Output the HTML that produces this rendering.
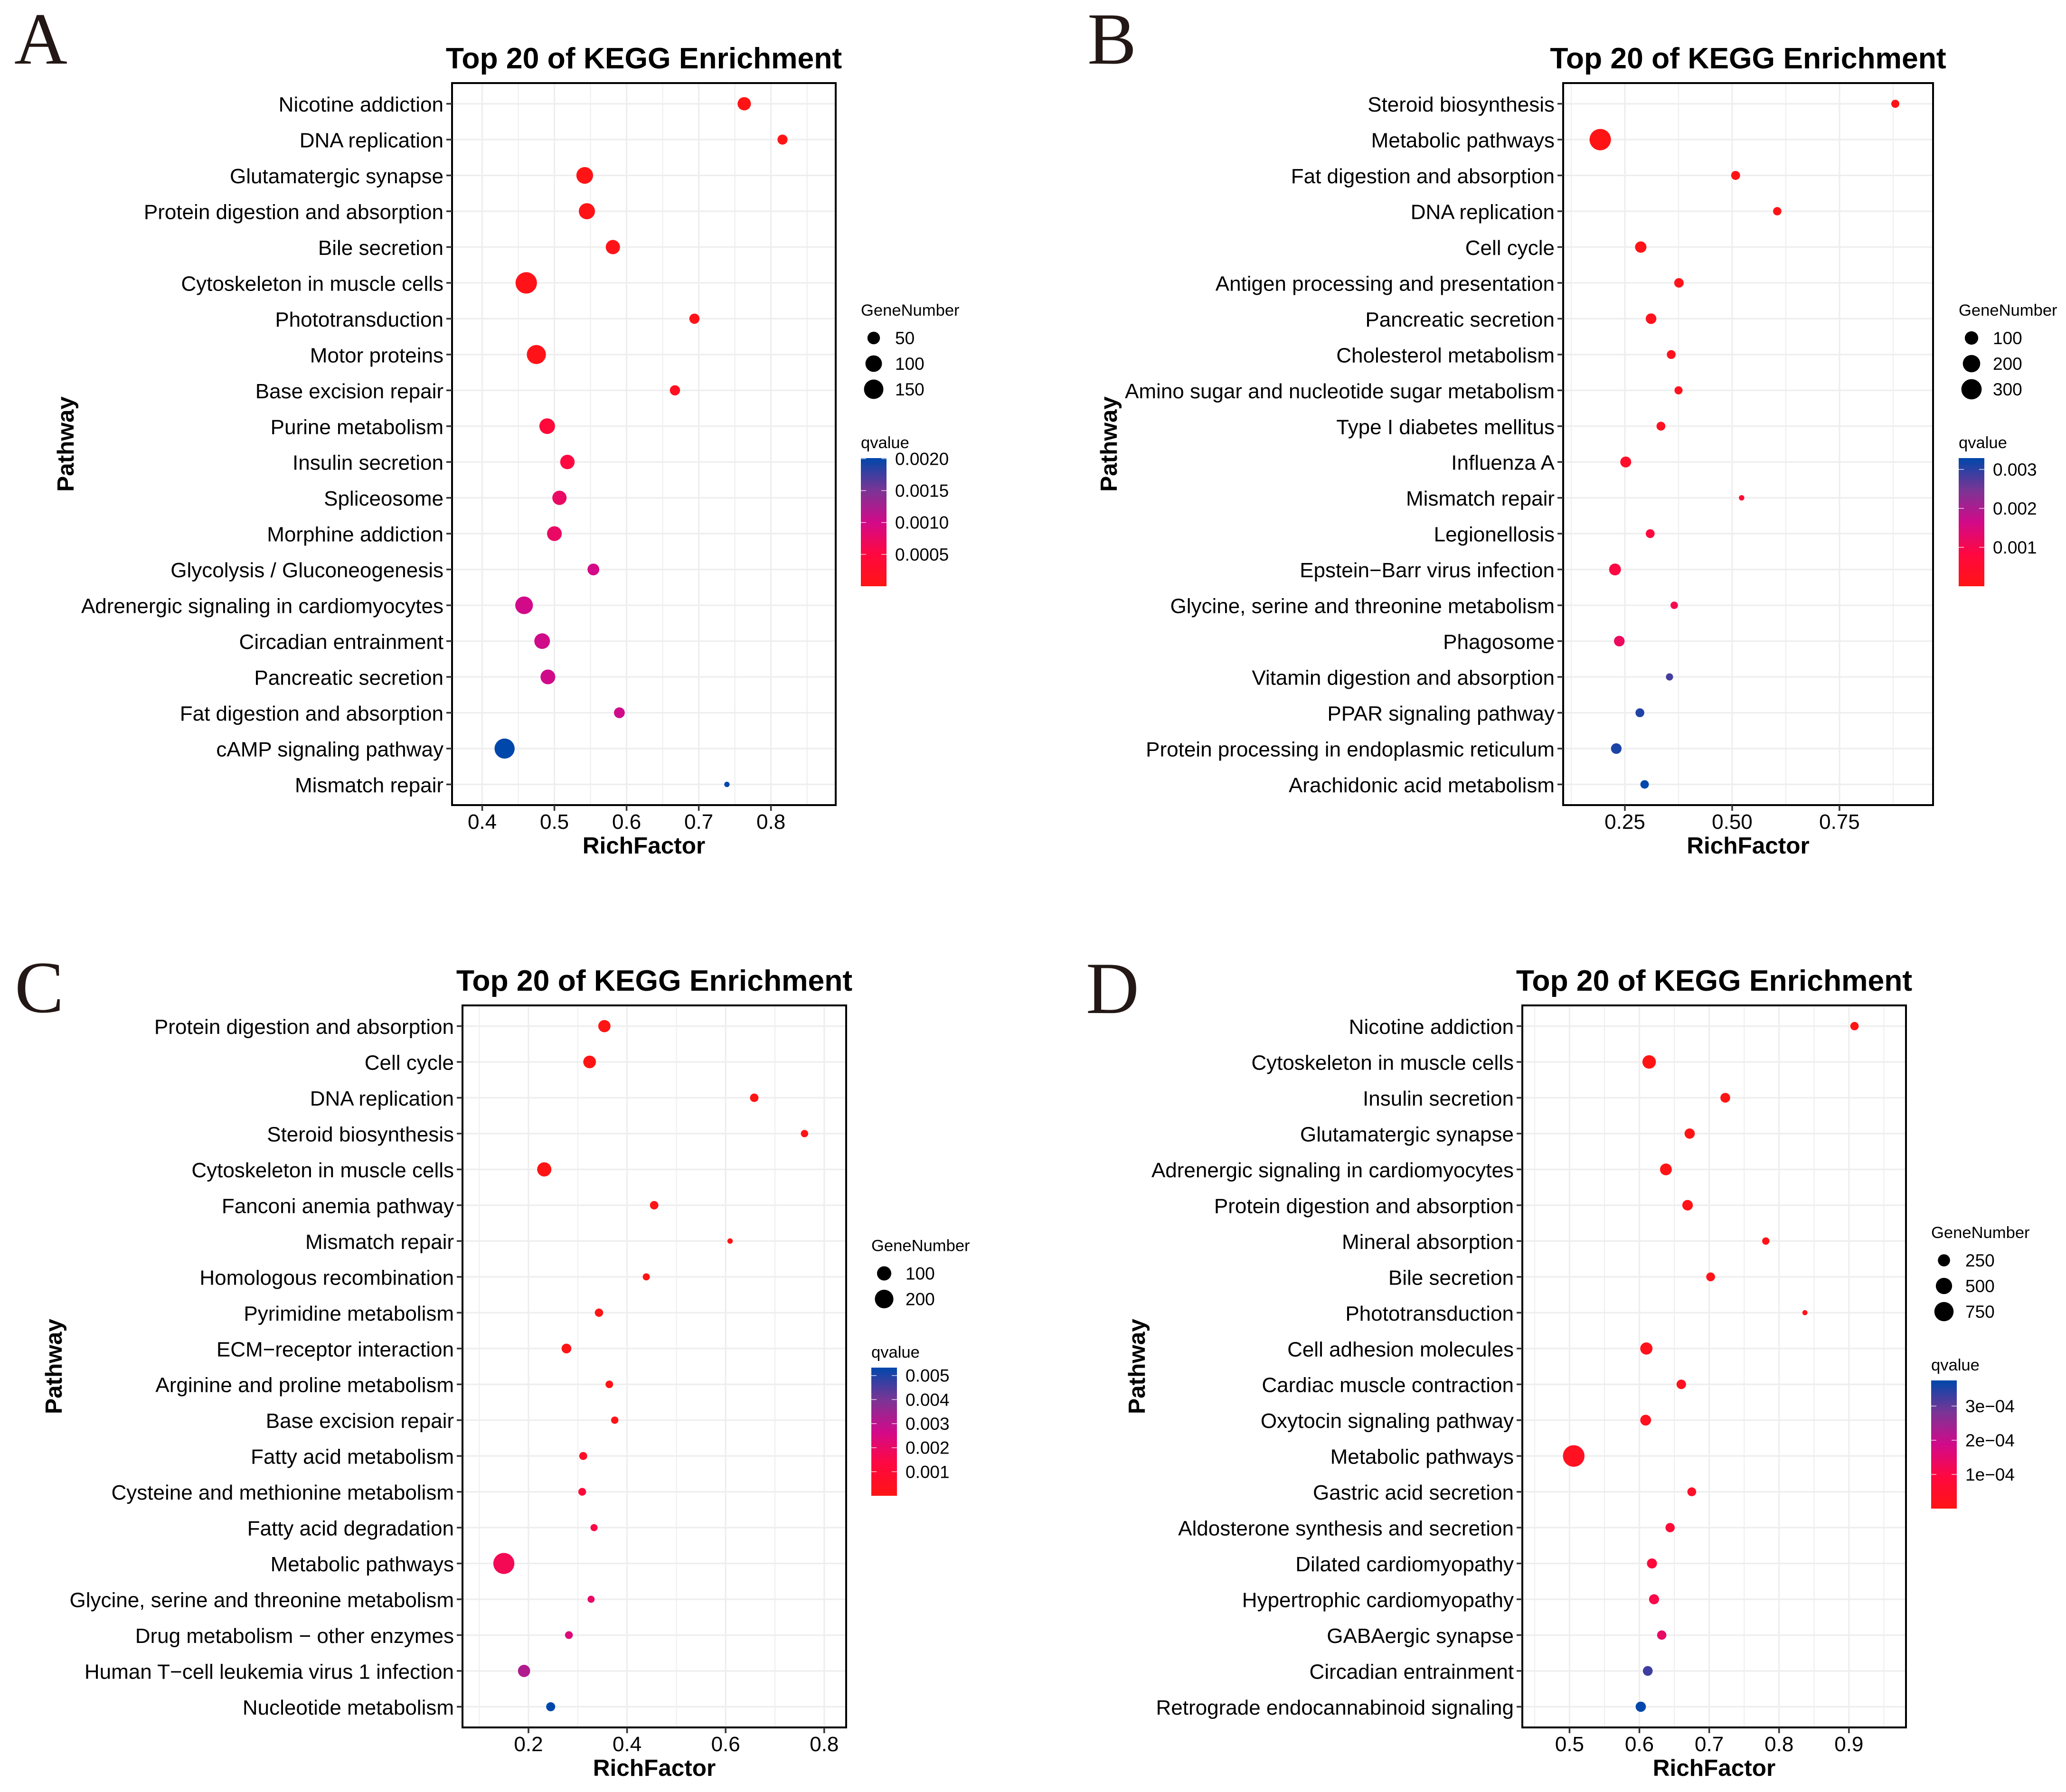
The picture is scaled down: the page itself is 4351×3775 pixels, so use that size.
<!DOCTYPE html>
<html lang="en">
<head>
<meta charset="utf-8">
<title>Top 20 of KEGG Enrichment</title>
<style>
html,body{margin:0;padding:0;background:#fff;}
svg{display:block;}
text{font-family:"Liberation Sans",Arial,sans-serif;fill:#000;}
</style>
</head>
<body>
<svg id="figure" xmlns="http://www.w3.org/2000/svg" width="4351" height="3775" viewBox="0 0 4351 3775">
<rect x="0" y="0" width="4351" height="3775" fill="#ffffff"/>
</svg>
<script>
/* ---------- Panel A data ---------- */
const panelAPathways = ["Nicotine addiction","DNA replication","Glutamatergic synapse","Protein digestion and absorption","Bile secretion","Cytoskeleton in muscle cells","Phototransduction","Motor proteins","Base excision repair","Purine metabolism","Insulin secretion","Spliceosome","Morphine addiction","Glycolysis / Gluconeogenesis","Adrenergic signaling in cardiomyocytes","Circadian entrainment","Pancreatic secretion","Fat digestion and absorption","cAMP signaling pathway","Mismatch repair"];
const panelARichFactor = [.763,.816,.542,.545,.581,.461,.694,.475,.667,.490,.518,.507,.500,.554,.458,.483,.491,.590,.431,.739];
const panelAGeneNumber = [58,30,103,94,69,190,31,144,31,87,71,69,75,43,118,87,75,35,164,15];
const panelAQvalue = [.00001,.00002,.00002,.00003,.00004,.00004,.00005,.00006,.00015,.00045,.0005,.00075,.00075,.00098,.001,.00102,.00102,.00102,.00201,.00201];
const panelAXTicks = [.4,.5,.6,.7,.8];
const panelAXTickLabels = ["0.4","0.5","0.6","0.7","0.8"];
const panelASizeBreaks = [50,100,150];
const panelAQBreaks = [.0005,.001,.0015,.002];
const panelAQBreakLabels = ["0.0005","0.0010","0.0015","0.0020"];

/* ---------- Panel B data ---------- */
const panelBPathways = ["Steroid biosynthesis","Metabolic pathways","Fat digestion and absorption","DNA replication","Cell cycle","Antigen processing and presentation","Pancreatic secretion","Cholesterol metabolism","Amino sugar and nucleotide sugar metabolism","Type I diabetes mellitus","Influenza A","Mismatch repair","Legionellosis","Epstein\u2212Barr virus infection","Glycine, serine and threonine metabolism","Phagosome","Vitamin digestion and absorption","PPAR signaling pathway","Protein processing in endoplasmic reticulum","Arachidonic acid metabolism"];
const panelBRichFactor = [.880,.1926,.508,.605,.287,.376,.311,.358,.375,.334,.252,.522,.309,.227,.365,.237,.354,.285,.230,.296];
const panelBGeneNumber = [29,340,36,31,65,41,54,35,29,35,58,20,35,72,25,54,24,35,54,32];
const panelBQvalue = [.00001,.00002,.00003,.00004,.00006,.0001,.00013,.00017,.0002,.00026,.00043,.00056,.00079,.00086,.00099,.00116,.00283,.00307,.0031,.00329];
const panelBXTicks = [.25,.5,.75];
const panelBXTickLabels = ["0.25","0.50","0.75"];
const panelBSizeBreaks = [100,200,300];
const panelBQBreaks = [.001,.002,.003];
const panelBQBreakLabels = ["0.001","0.002","0.003"];

/* ---------- Panel C data ---------- */
const panelCPathways = ["Protein digestion and absorption","Cell cycle","DNA replication","Steroid biosynthesis","Cytoskeleton in muscle cells","Fanconi anemia pathway","Mismatch repair","Homologous recombination","Pyrimidine metabolism","ECM\u2212receptor interaction","Arginine and proline metabolism","Base excision repair","Fatty acid metabolism","Cysteine and methionine metabolism","Fatty acid degradation","Metabolic pathways","Glycine, serine and threonine metabolism","Drug metabolism \u2212 other enzymes","Human T\u2212cell leukemia virus 1 infection","Nucleotide metabolism"];
const panelCRichFactor = [.354,.324,.658,.760,.232,.455,.609,.439,.343,.277,.364,.375,.311,.309,.333,.150,.327,.282,.191,.245];
const panelCGeneNumber = [66,73,27,21,99,27,17,20,26,37,22,21,24,23,20,276,20,23,66,31];
const panelCQvalue = [.00001,.00001,.00001,.00002,.00002,.00003,.00003,.00005,.00005,.00005,.00008,.00011,.00053,.00117,.00143,.0017,.002,.00233,.00318,.00533];
const panelCXTicks = [.2,.4,.6,.8];
const panelCXTickLabels = ["0.2","0.4","0.6","0.8"];
const panelCSizeBreaks = [100,200];
const panelCQBreaks = [.001,.002,.003,.004,.005];
const panelCQBreakLabels = ["0.001","0.002","0.003","0.004","0.005"];

/* ---------- Panel D data ---------- */
const panelDPathways = ["Nicotine addiction","Cytoskeleton in muscle cells","Insulin secretion","Glutamatergic synapse","Adrenergic signaling in cardiomyocytes","Protein digestion and absorption","Mineral absorption","Bile secretion","Phototransduction","Cell adhesion molecules","Cardiac muscle contraction","Oxytocin signaling pathway","Metabolic pathways","Gastric acid secretion","Aldosterone synthesis and secretion","Dilated cardiomyopathy","Hypertrophic cardiomyopathy","GABAergic synapse","Circadian entrainment","Retrograde endocannabinoid signaling"];
const panelDRichFactor = [.908,.614,.723,.672,.638,.669,.781,.702,.837,.610,.660,.609,.506,.675,.644,.618,.621,.632,.612,.602];
const panelDGeneNumber = [120,318,157,173,233,183,101,131,85,254,149,193,985,131,143,166,166,143,157,173];
const panelDQvalue = [.000001,.000001,.000002,.000002,.000004,.000004,.000008,.000008,.000011,.000019,.000023,.000023,.000027,.000042,.000072,.000084,.000106,.000141,.000327,.000375];
const panelDXTicks = [.5,.6,.7,.8,.9];
const panelDXTickLabels = ["0.5","0.6","0.7","0.8","0.9"];
const panelDSizeBreaks = [250,500,750];
const panelDQBreaks = [.0001,.0002,.0003];
const panelDQBreakLabels = ["1e\u221204","2e\u221204","3e\u221204"];

/* ---------- Colour ramp ---------- */
const rampOffsets = [0,.25,.5,.75,1];
const rampColors = ["#ff1414","#ff0840","#d20a8a","#7a3595","#0047ab"];

const NS = "http://www.w3.org/2000/svg";
const figure = document.getElementById("figure");

function el(parent, tag, attrs, txt){
  const n = document.createElementNS(NS, tag);
  for (const k in attrs) n.setAttribute(k, attrs[k]);
  if (txt !== undefined) n.textContent = txt;
  parent.appendChild(n);
  return n;
}
function hexToRgb(h){return [parseInt(h.slice(1,3),16),parseInt(h.slice(3,5),16),parseInt(h.slice(5,7),16)];}
function rampColor(t){
  t = Math.max(0, Math.min(1, t));
  for (let i = 1; i < rampOffsets.length; i++){
    if (t <= rampOffsets[i]){
      const f = (t - rampOffsets[i-1]) / (rampOffsets[i] - rampOffsets[i-1]);
      const a = hexToRgb(rampColors[i-1]), b = hexToRgb(rampColors[i]);
      return "rgb(" + a.map((v,j)=>Math.round(v + (b[j]-v)*f)).join(",") + ")";
    }
  }
  return rampColors[rampColors.length-1];
}

function drawPanel(cfg){
  const id = cfg.id;
  const g = el(figure, "g", {});
  
  

  const xScale = v => cfg.left + (v - cfg.xMin) / (cfg.xMax - cfg.xMin) * (cfg.right - cfg.left);
  const yInset = 43.6;
  const yStep = (cfg.bottom - cfg.top - 2 * yInset) / (cfg.pathways.length - 1);
  const yScale = i => cfg.top + yInset + i * yStep;
  const gMin = Math.min(...cfg.genes), gMax = Math.max(...cfg.genes);
  const rScale = n => cfg.rMin + (cfg.rMax - cfg.rMin) * Math.sqrt(Math.max(0, (n - gMin) / (gMax - gMin)));
  const qMax = Math.max(...cfg.qvalues);
  const colorScale = q => rampColor(q / qMax);
  const centerX = (cfg.left + cfg.right) / 2;
  const centerY = (cfg.top + cfg.bottom) / 2;

  /* panel letter */
  const letter = el(g, "text", {x: cfg.letterX, y: cfg.letterY, "font-size": 155, style: 'font-family:"Liberation Serif",serif;fill:#231815'}, id);
  
  

  /* title */
  const title = el(g, "text", {x: centerX, y: cfg.top - 31, "font-size": 62.4, "font-weight": "bold", "text-anchor": "middle"}, "Top 20 of KEGG Enrichment");
  
  

  /* gridlines */
  const grid = el(g, "g", {});
  
  
  const step = cfg.xTicks[1] - cfg.xTicks[0];
  const minors = [cfg.xTicks[0] - step / 2];
  cfg.xTicks.forEach(t => minors.push(t + step / 2));
  minors.filter(v => v > cfg.xMin && v < cfg.xMax).forEach(v => {
    const l = el(grid, "line", {x1: xScale(v), x2: xScale(v), y1: cfg.top, y2: cfg.bottom, stroke: "#eeeeee", "stroke-width": 2});
    
    
  });
  cfg.xTicks.forEach(v => {
    const l = el(grid, "line", {x1: xScale(v), x2: xScale(v), y1: cfg.top, y2: cfg.bottom, stroke: "#eeeeee", "stroke-width": 3.2});
    
    
  });
  cfg.pathways.forEach((p, i) => {
    const l = el(grid, "line", {x1: cfg.left, x2: cfg.right, y1: yScale(i), y2: yScale(i), stroke: "#eeeeee", "stroke-width": 3.2});
    
    
  });

  /* points */
  const pts = el(g, "g", {});
  
  
  cfg.pathways.forEach((p, i) => {
    const c = el(pts, "circle", {cx: xScale(cfg.rich[i]), cy: yScale(i), r: rScale(cfg.genes[i]), fill: colorScale(cfg.qvalues[i])});
    
    
  });

  /* panel border */
  const border = el(g, "rect", {x: cfg.left, y: cfg.top, width: cfg.right - cfg.left, height: cfg.bottom - cfg.top, fill: "none", stroke: "#000", "stroke-width": 4});
  
  

  /* y axis */
  const yAxis = el(g, "g", {});
  
  
  cfg.pathways.forEach((p, i) => {
    const t = el(yAxis, "line", {x1: cfg.left - 12, x2: cfg.left, y1: yScale(i), y2: yScale(i), stroke: "#333", "stroke-width": 3.5});
    
    
    const lab = el(yAxis, "text", {x: cfg.left - 18, y: yScale(i) + 16.5, "font-size": 44, "text-anchor": "end"}, p);
    
    
  });
  const yTitle = el(yAxis, "text", {x: 0, y: 0, "font-size": 49.5, "font-weight": "bold", "text-anchor": "middle", transform: "translate(" + cfg.yTitleX + "," + centerY + ") rotate(-90)"}, "Pathway");
  
  

  /* x axis */
  const xAxis = el(g, "g", {});
  
  
  cfg.xTicks.forEach((v, i) => {
    const t = el(xAxis, "line", {x1: xScale(v), x2: xScale(v), y1: cfg.bottom, y2: cfg.bottom + 12, stroke: "#333", "stroke-width": 3.5});
    
    
    const lab = el(xAxis, "text", {x: xScale(v), y: cfg.bottom + 50, "font-size": 44, "text-anchor": "middle"}, cfg.xTickLabels[i]);
    
    
  });
  const xTitle = el(xAxis, "text", {x: centerX, y: cfg.bottom + 102, "font-size": 49.5, "font-weight": "bold", "text-anchor": "middle"}, "RichFactor");
  
  

  /* size legend */
  const sizeLegend = el(g, "g", {});
  
  
  const sizeTitle = el(sizeLegend, "text", {x: cfg.legendX, y: cfg.sizeTitleY, "font-size": 34.6}, "GeneNumber");
  
  
  cfg.sizeBreaks.forEach((b, i) => {
    const y = cfg.sizeTitleY + 47 + i * 54;
    const c = el(sizeLegend, "circle", {cx: cfg.legendX + 27, cy: y, r: rScale(b), fill: "#000"});
    
    
    const t = el(sizeLegend, "text", {x: cfg.legendX + 72, y: y + 13, "font-size": 37}, String(b));
    
    
  });

  /* colour legend */
  const colorLegend = el(g, "g", {});
  
  
  const colorTitle = el(colorLegend, "text", {x: cfg.legendX, y: cfg.barTop - 21, "font-size": 34.6}, "qvalue");
  
  
  const barH = 270, barW = 54;
  const grad = el(colorLegend, "linearGradient", {id: "ramp" + id, x1: 0, y1: 1, x2: 0, y2: 0});
  rampOffsets.forEach((o, i) => el(grad, "stop", {offset: o, "stop-color": rampColors[i]}));
  const bar = el(colorLegend, "rect", {x: cfg.legendX, y: cfg.barTop, width: barW, height: barH, fill: "url(#ramp" + id + ")"});
  
  
  const qY = q => cfg.barTop + barH - q / qMax * barH;
  cfg.qBreaks.forEach((q, i) => {
    const y = qY(q);
    const t1 = el(colorLegend, "line", {x1: cfg.legendX, x2: cfg.legendX + 11, y1: y, y2: y, stroke: "#fff", "stroke-width": 1.4, "stroke-opacity": .85});
    
    
    const t2 = el(colorLegend, "line", {x1: cfg.legendX + barW - 11, x2: cfg.legendX + barW, y1: y, y2: y, stroke: "#fff", "stroke-width": 1.4, "stroke-opacity": .85});
    
    
    const lab = el(colorLegend, "text", {x: cfg.legendX + 72, y: y + 13, "font-size": 37}, cfg.qBreakLabels[i]);
    
    
  });
}

drawPanel({id:"A", left:952, right:1760, top:175, bottom:1696, xMin:.3582, xMax:.8897, rMin:5.7, rMax:22.5,
  letterX:30, letterY:134, yTitleX:155, legendX:1813, sizeTitleY:665, barTop:965,
  pathways:panelAPathways, rich:panelARichFactor, genes:panelAGeneNumber, qvalues:panelAQvalue,
  xTicks:panelAXTicks, xTickLabels:panelAXTickLabels, sizeBreaks:panelASizeBreaks, qBreaks:panelAQBreaks, qBreakLabels:panelAQBreakLabels});
drawPanel({id:"B", left:3292, right:4071, top:175, bottom:1696, xMin:.1062, xMax:.968, rMin:5.7, rMax:22.5,
  letterX:2290, letterY:134, yTitleX:2352, legendX:4125, sizeTitleY:665, barTop:965,
  pathways:panelBPathways, rich:panelBRichFactor, genes:panelBGeneNumber, qvalues:panelBQvalue,
  xTicks:panelBXTicks, xTickLabels:panelBXTickLabels, sizeBreaks:panelBSizeBreaks, qBreaks:panelBQBreaks, qBreakLabels:panelBQBreakLabels});
drawPanel({id:"C", left:974, right:1782, top:2118, bottom:3639, xMin:.0661, xMax:.8445, rMin:5.7, rMax:22.2,
  letterX:31, letterY:2132, yTitleX:130, legendX:1835, sizeTitleY:2635.5, barTop:2881,
  pathways:panelCPathways, rich:panelCRichFactor, genes:panelCGeneNumber, qvalues:panelCQvalue,
  xTicks:panelCXTicks, xTickLabels:panelCXTickLabels, sizeBreaks:panelCSizeBreaks, qBreaks:panelCQBreaks, qBreakLabels:panelCQBreakLabels});
drawPanel({id:"D", left:3206, right:4014, top:2118, bottom:3639, xMin:.4324, xMax:.9817, rMin:5.4, rMax:22.7,
  letterX:2287, letterY:2134, yTitleX:2411, legendX:4067, sizeTitleY:2608, barTop:2908,
  pathways:panelDPathways, rich:panelDRichFactor, genes:panelDGeneNumber, qvalues:panelDQvalue,
  xTicks:panelDXTicks, xTickLabels:panelDXTickLabels, sizeBreaks:panelDSizeBreaks, qBreaks:panelDQBreaks, qBreakLabels:panelDQBreakLabels});
</script>
</body>
</html>
